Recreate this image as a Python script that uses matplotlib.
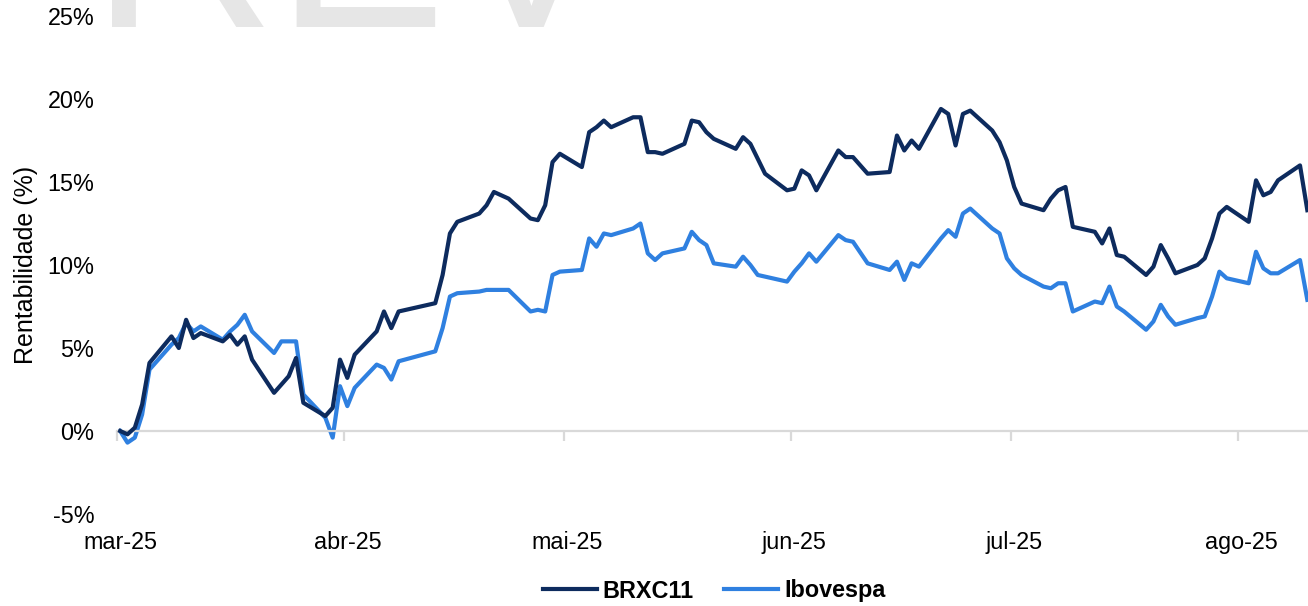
import pandas as pd
import matplotlib
matplotlib.use("Agg")
import matplotlib.pyplot as plt

plt.rcParams["font.family"] = ["Liberation Sans", "DejaVu Sans"]

# trading days (only the vertices of the two lines)
DATES = [
    "2025-03-10", "2025-03-11", "2025-03-12", "2025-03-13", "2025-03-14",
    "2025-03-17", "2025-03-18", "2025-03-19", "2025-03-20", "2025-03-21",
    "2025-03-24", "2025-03-25", "2025-03-26", "2025-03-27", "2025-03-28",
    "2025-03-31", "2025-04-01", "2025-04-02", "2025-04-03", "2025-04-04",
    "2025-04-07", "2025-04-08", "2025-04-09", "2025-04-10", "2025-04-11",
    "2025-04-14", "2025-04-15", "2025-04-16", "2025-04-17",
    "2025-04-22", "2025-04-23", "2025-04-24", "2025-04-25",
    "2025-04-28", "2025-04-29", "2025-04-30", "2025-05-02",
    "2025-05-05", "2025-05-06", "2025-05-07", "2025-05-08", "2025-05-09",
    "2025-05-12", "2025-05-13", "2025-05-14", "2025-05-15", "2025-05-16",
    "2025-05-19", "2025-05-20", "2025-05-21", "2025-05-22", "2025-05-23",
    "2025-05-26", "2025-05-27", "2025-05-28", "2025-05-29", "2025-05-30",
    "2025-06-02", "2025-06-03", "2025-06-04", "2025-06-05", "2025-06-06",
    "2025-06-09", "2025-06-10", "2025-06-11", "2025-06-12", "2025-06-13",
    "2025-06-16", "2025-06-17", "2025-06-18", "2025-06-20",
    "2025-06-23", "2025-06-24", "2025-06-25", "2025-06-26", "2025-06-27",
    "2025-06-30", "2025-07-01", "2025-07-02", "2025-07-03", "2025-07-04",
    "2025-07-07", "2025-07-08", "2025-07-09", "2025-07-10", "2025-07-11",
    "2025-07-14", "2025-07-15", "2025-07-16", "2025-07-17", "2025-07-18",
    "2025-07-21", "2025-07-22", "2025-07-23", "2025-07-24", "2025-07-25",
    "2025-07-28", "2025-07-29", "2025-07-30", "2025-07-31", "2025-08-01",
    "2025-08-04", "2025-08-05", "2025-08-06", "2025-08-07", "2025-08-08",
    "2025-08-11", "2025-08-12", "2025-08-13", "2025-08-14", "2025-08-15",
    "2025-08-18", "2025-08-19",
]

BRXC11 = [
    0.0, -0.2, 0.2, 1.6, 4.1,
    5.7, 5.0, 6.7, 5.6, 5.9,
    5.4, 5.8, 5.2, 5.7, 4.3,
    2.3, 2.8, 3.3, 4.4, 1.7,
    0.9, 1.4, 4.3, 3.2, 4.6,
    6.0, 7.2, 6.2, 7.2,
    7.7, 9.4, 11.9, 12.6,
    13.1, 13.6, 14.4, 14.0,
    12.8, 12.7, 13.6, 16.2, 16.7,
    15.9, 18.0, 18.3, 18.7, 18.3,
    18.9, 18.9, 16.8, 16.8, 16.7,
    17.3, 18.7, 18.6, 18.0, 17.6,
    17.0, 17.7, 17.3, 16.4, 15.5,
    14.5, 14.6, 15.7, 15.4, 14.5,
    16.9, 16.5, 16.5, 15.5,
    15.6, 17.8, 16.9, 17.5, 17.0,
    19.4, 19.1, 17.2, 19.1, 19.3,
    18.1, 17.4, 16.3, 14.7, 13.7,
    13.3, 14.0, 14.5, 14.7, 12.3,
    12.0, 11.3, 12.2, 10.6, 10.5,
    9.4, 9.9, 11.2, 10.4, 9.5,
    10.0, 10.4, 11.6, 13.1, 13.5,
    12.6, 15.1, 14.2, 14.4, 15.1,
    16.0, 13.3,
]

IBOVESPA = [
    0.0, -0.7, -0.4, 1.0, 3.7,
    5.2, 5.6, 6.5, 6.0, 6.3,
    5.5, 6.0, 6.4, 7.0, 6.0,
    4.7, 5.4, 5.4, 5.4, 2.2,
    0.8, -0.4, 2.7, 1.5, 2.6,
    4.0, 3.8, 3.1, 4.2,
    4.8, 6.2, 8.1, 8.3,
    8.4, 8.5, 8.5, 8.5,
    7.2, 7.3, 7.2, 9.4, 9.6,
    9.7, 11.6, 11.1, 11.9, 11.8,
    12.2, 12.5, 10.7, 10.3, 10.7,
    11.0, 12.0, 11.5, 11.2, 10.1,
    9.9, 10.5, 10.0, 9.4, 9.3,
    9.0, 9.6, 10.1, 10.7, 10.2,
    11.8, 11.5, 11.4, 10.1,
    9.7, 10.2, 9.1, 10.1, 9.9,
    11.6, 12.1, 11.7, 13.1, 13.4,
    12.2, 11.9, 10.4, 9.8, 9.4,
    8.7, 8.6, 8.9, 8.9, 7.2,
    7.8, 7.7, 8.7, 7.5, 7.2,
    6.1, 6.6, 7.6, 6.9, 6.4,
    6.8, 6.9, 8.1, 9.6, 9.2,
    8.9, 10.8, 9.8, 9.5, 9.5,
    10.3, 7.9,
]

MONTH_TICKS = ["2025-03-10", "2025-04-10", "2025-05-10",
               "2025-06-10", "2025-07-10", "2025-08-10"]
MONTH_LABELS = ["mar-25", "abr-25", "mai-25", "jun-25", "jul-25", "ago-25"]
Y_TICKS = [-5, 0, 5, 10, 15, 20, 25]

DARK = "#0d2b5e"
LIGHT = "#2f80e0"
GRID_GREY = "#d9d9d9"
FS = 16.8

fig = plt.figure(figsize=(13.08, 6.06), dpi=100)
ax = fig.add_axes([116.5 / 1308, 1 - 514 / 606, (1311 - 116.5) / 1308, 498 / 606])
ax.set_facecolor("none")

# excel date axis: each point sits in the middle of its day slot
x = pd.to_datetime(DATES) + pd.Timedelta(hours=12)
l1, = ax.plot(x, BRXC11, color=DARK, lw=3.0, label="BRXC11", zorder=3)
l2, = ax.plot(x, IBOVESPA, color=LIGHT, lw=3.0, label="Ibovespa", zorder=2)

ax.set_xlim(pd.Timestamp("2025-03-10"), pd.Timestamp("2025-08-20"))
ax.set_ylim(-5, 25)
ax.set_yticks(Y_TICKS, [f"{v}%" for v in Y_TICKS])
ax.tick_params(axis="y", length=0, pad=16, labelsize=FS)

for side in ["top", "right", "left"]:
    ax.spines[side].set_visible(False)
ax.spines["bottom"].set_position(("data", 0))
ax.spines["bottom"].set_color(GRID_GREY)
ax.spines["bottom"].set_linewidth(1.6)

ticks = pd.to_datetime(MONTH_TICKS)
ax.set_xticks(ticks)
ax.tick_params(axis="x", length=7, width=1.6, color=GRID_GREY,
               direction="out", labelbottom=False)

# month labels sit at the bottom of the plot, not on the zero line
sec = ax.secondary_xaxis("bottom")
sec.set_xticks(ticks + pd.Timedelta(hours=12), MONTH_LABELS)
sec.spines["bottom"].set_visible(False)
sec.tick_params(length=0, pad=12, labelsize=FS)

ax.set_ylabel("Rentabilidade (%)", fontsize=18)
ax.yaxis.set_label_coords(-0.0657, 0.5)

# faint watermark cut off by the top edge, as in the source image
ax.text(91 / 1308, 1 - 27 / 606, "REV", transform=fig.transFigure,
        fontsize=184, color="#e6e6e6", ha="left", va="baseline",
        zorder=0, clip_on=False)

fig.legend(handles=[l1, l2], loc="center",
           bbox_to_anchor=(714 / 1308, 1 - 591 / 606), ncol=2, frameon=False,
           prop={"weight": "bold", "size": FS}, handlelength=2.32,
           handletextpad=0.25, columnspacing=1.3)

fig.savefig("out.png", dpi=100)
